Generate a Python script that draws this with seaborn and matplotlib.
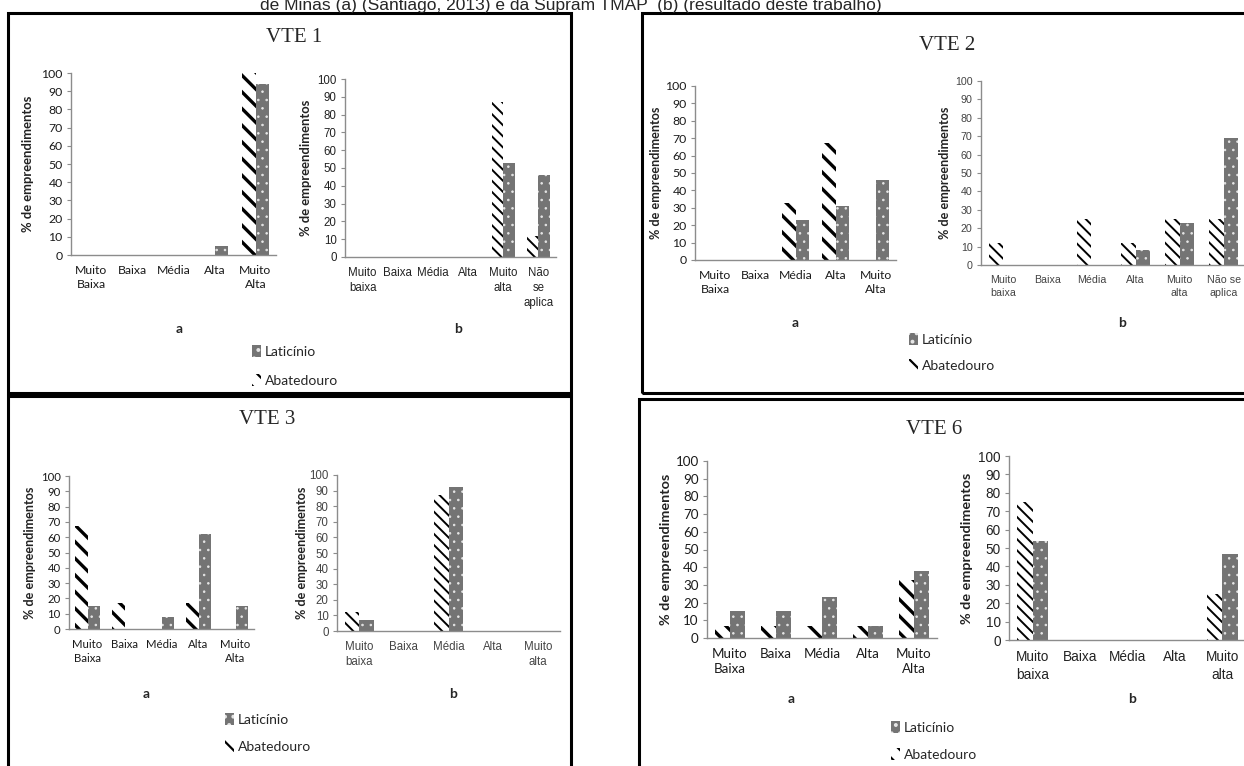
#!/usr/bin/env python3
"""
Distribuicao dos empreendimentos por classe de VTE (a: Santiago 2013, b: Supram TMAP).
"""

import matplotlib.pyplot as plt
from matplotlib.patches import Rectangle
import pandas as pd
import seaborn as sns

# categorie
cats_a = ["Muito\nBaixa", "Baixa", "Média", "Alta", "Muito\nAlta"]
cats_b_vte1 = ["Muito\nbaixa", "Baixa", "Média", "Alta", "Muito\nalta", "Não\nse\naplica"]
cats_b_vte2 = ["Muito\nbaixa", "Baixa", "Média", "Alta", "Muito\nalta", "Não se\naplica"]
cats_b5 = ["Muito\nbaixa", "Baixa", "Média", "Alta", "Muito\nalta"]

# % de empreendimentos
vte1_a_abat = [0, 0, 0, 0, 100]
vte1_a_lat = [0, 0, 0, 5, 94]
vte1_b_abat = [0, 0, 0, 0, 87, 12]
vte1_b_lat = [0, 0, 0, 0, 53, 46]

vte2_a_abat = [0, 0, 33, 67, 0]
vte2_a_lat = [0, 0, 23, 31, 46]
vte2_b_abat = [12, 0, 25, 12, 25, 25]
vte2_b_lat = [0, 0, 0, 8, 23, 69]

vte3_a_abat = [67, 17, 0, 17, 0]
vte3_a_lat = [15, 0, 8, 62, 15]
vte3_b_abat = [12, 0, 87, 0, 0]
vte3_b_lat = [7, 0, 92, 0, 0]

vte6_a_abat = [7, 7, 7, 7, 33]
vte6_a_lat = [15, 15, 23, 7, 38]
vte6_b_abat = [75, 0, 0, 0, 25]
vte6_b_lat = [54, 0, 0, 0, 47]

yticks = list(range(0, 101, 10))
caption = "de Minas (a) (Santiago, 2013) e da Supram TMAP  (b) (resultado deste trabalho)"

W, H = 1244, 766

sns.set_theme(style="white")
plt.rcParams["hatch.linewidth"] = 1.6


def px_rect(l, t, r, b):
    return [l / W, 1 - b / H, (r - l) / W, (b - t) / H]


def fx(x):
    return x / W


def fy(y):
    return 1 - y / H


def draw_bars(fig, rect, cats, abat, lat, tick_font, tick_size, tick_color,
              ylab_x, ylab_size, stripe, stripe_lw):
    ax = fig.add_axes(px_rect(*rect))
    df = pd.DataFrame({
        "cat": cats * 2,
        "pct": abat + lat,
        "tipo": ["Abatedouro"] * len(cats) + ["Laticínio"] * len(cats),
    })
    sns.barplot(data=df, x="cat", y="pct", hue="tipo", order=cats,
                hue_order=["Abatedouro", "Laticínio"], width=0.66,
                legend=False, ax=ax, errorbar=None)
    for p in ax.containers[0]:
        p.set_facecolor("white")
        p.set_edgecolor("black")
        p.set_linewidth(0)
        p.set_hatch(stripe)
        if hasattr(p, "set_hatch_linewidth"):
            p.set_hatch_linewidth(stripe_lw)
    for p in ax.containers[1]:
        p.set_facecolor("#747474")
        p.set_edgecolor("#e6e6e6")
        p.set_linewidth(0)
        p.set_hatch("..")
        if hasattr(p, "set_hatch_linewidth"):
            p.set_hatch_linewidth(0.6)

    ax.set_ylim(0, 100)
    ax.set_yticks(yticks)
    ax.set_xlabel("")
    ax.set_ylabel("")
    ax.set_facecolor("none")
    for s in ["top", "right"]:
        ax.spines[s].set_visible(False)
    for s in ["left", "bottom"]:
        ax.spines[s].set_color("#8c8c8c")
        ax.spines[s].set_linewidth(1.0)
    ax.tick_params(axis="x", length=0, pad=7, labelsize=tick_size,
                   labelcolor=tick_color)
    ax.tick_params(axis="y", length=3, width=0.8, color="#8c8c8c", pad=3,
                   labelsize=tick_size, labelcolor=tick_color, left=True)
    for lab in ax.get_xticklabels() + ax.get_yticklabels():
        lab.set_family(tick_font)
        lab.set_linespacing(1.35)

    yc = (rect[1] + rect[3]) / 2
    fig.text(fx(ylab_x), fy(yc), "% de empreendimentos", rotation=90,
             ha="center", va="center", fontsize=ylab_size, fontweight="bold",
             family=["Lato", "DejaVu Sans"], color="#222222")
    return ax


def draw_panel(fig, p):
    l, t, r, b = p["box"]
    fig.add_artist(Rectangle((fx(l), fy(b)), (r - l) / W, (b - t) / H,
                             transform=fig.transFigure, fill=False,
                             edgecolor="black", linewidth=2.2))
    fig.text(fx(p["title_xy"][0]), fy(p["title_xy"][1]), p["title"],
             ha="center", va="center", fontsize=p["title_size"],
             family=["Liberation Serif", "DejaVu Serif"])

    ax_a = draw_bars(fig, p["rect_a"], cats_a, p["a"][0], p["a"][1],
                     ["Lato", "DejaVu Sans"], p["size_a"], "#1a1a1a",
                     p["ylab_a"], p["ylab_size"], "\\\\", 2.4)
    draw_bars(fig, p["rect_b"], p["cats_b"], p["b"][0], p["b"][1],
              ["Liberation Sans Narrow", "Liberation Sans", "DejaVu Sans"],
              p["size_b"], p["color_b"], p["ylab_b"], p["ylab_size"],
              "\\\\\\", 1.4)

    for lab, xy in zip(["a", "b"], p["ab_xy"]):
        fig.text(fx(xy[0]), fy(xy[1]), lab, ha="center", va="center",
                 fontsize=10, fontweight="bold", family=["Lato", "DejaVu Sans"])

    handles = [ax_a.containers[1][0], ax_a.containers[0][0]]
    fig.legend(handles=handles, labels=["Laticínio", "Abatedouro"],
               loc="upper left", bbox_to_anchor=(fx(p["leg_xy"][0]), fy(p["leg_xy"][1])),
               frameon=False, handlelength=0.65, handleheight=1.0,
               handletextpad=0.3, labelspacing=p["leg_spacing"], borderpad=0,
               borderaxespad=0, prop={"family": ["Lato", "DejaVu Sans"], "size": 10})


panels = [
    dict(title="VTE 1", title_xy=(294, 37), title_size=15, box=(8, 13, 571, 393),
         rect_a=(71, 73, 276, 255), rect_b=(345, 79, 556, 257),
         a=(vte1_a_abat, vte1_a_lat), b=(vte1_b_abat, vte1_b_lat),
         cats_b=cats_b_vte1, size_a=8.8, size_b=8.3, color_b="#222222",
         ylab_a=28, ylab_b=306, ylab_size=9.4, ab_xy=[(179, 329), (458, 329)],
         leg_xy=(252, 345), leg_spacing=1.15),
    dict(title="VTE 2", title_xy=(947, 45), title_size=15, box=(642, 13, 1250, 393),
         rect_a=(695, 86, 896, 260), rect_b=(981, 81, 1246, 265),
         a=(vte2_a_abat, vte2_a_lat), b=(vte2_b_abat, vte2_b_lat),
         cats_b=cats_b_vte2, size_a=8.8, size_b=7.7, color_b="#444444",
         ylab_a=656, ylab_b=945, ylab_size=9.1, ab_xy=[(795, 323), (1122, 323)],
         leg_xy=(909, 333), leg_spacing=0.95),
    dict(title="VTE 3", title_xy=(267, 420), title_size=15, box=(8, 396, 571, 770),
         rect_a=(69, 476, 254, 629), rect_b=(337, 475, 560, 631),
         a=(vte3_a_abat, vte3_a_lat), b=(vte3_b_abat, vte3_b_lat),
         cats_b=cats_b5, size_a=8.2, size_b=8.3, color_b="#444444",
         ylab_a=30, ylab_b=302, ylab_size=9.1, ab_xy=[(146, 694), (453, 694)],
         leg_xy=(225, 713), leg_spacing=1.0),
    dict(title="VTE 6", title_xy=(934, 430), title_size=15, box=(639, 399, 1250, 770),
         rect_a=(707, 461, 937, 638), rect_b=(1009, 456, 1246, 640),
         a=(vte6_a_abat, vte6_a_lat), b=(vte6_b_abat, vte6_b_lat),
         cats_b=cats_b5, size_a=9.6, size_b=9.8, color_b="#222222",
         ylab_a=666, ylab_b=967, ylab_size=10.4, ab_xy=[(791, 699), (1132, 699)],
         leg_xy=(891, 721), leg_spacing=1.0),
]

fig = plt.figure(figsize=(W / 100, H / 100), dpi=100)
fig.patch.set_facecolor("white")

for p in panels:
    draw_panel(fig, p)

fig.text(fx(571), fy(10), caption, ha="center", va="baseline", fontsize=12.5,
         family=["Liberation Sans", "DejaVu Sans"])

fig.savefig("out.png", dpi=100, facecolor="white")
plt.close(fig)
